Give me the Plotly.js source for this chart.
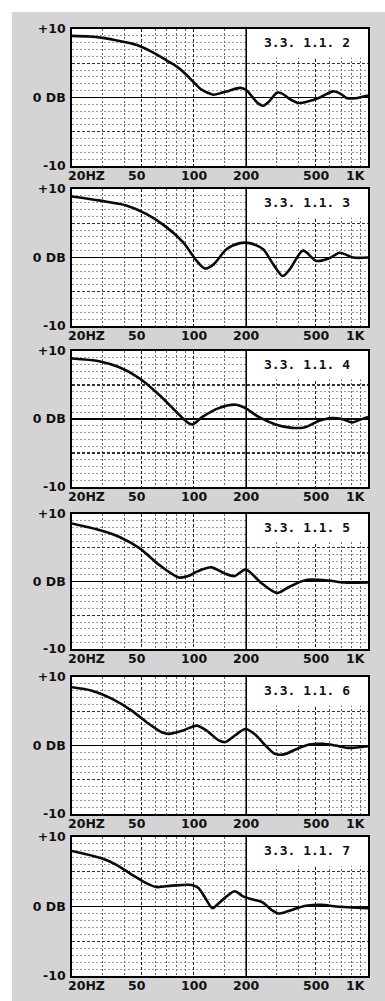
<!DOCTYPE html>
<html><head><meta charset="utf-8">
<script src="https://cdn.plot.ly/plotly-3.0.1.min.js"></script>
<style>
html,body{margin:0;padding:0;background:#fff;}
#chart{position:absolute;left:12px;top:12px;width:373px;height:989px;}
</style>
</head><body><div id="chart"></div>
<script>
// ---- data ----
const panelLabels = ["3.3. 1.1. 2","3.3. 1.1. 3","3.3. 1.1. 4","3.3. 1.1. 5","3.3. 1.1. 6","3.3. 1.1. 7"];
const xTickVals = [20, 50, 100, 200, 500, 1000];
const xTickText = ["20HZ", "50", "100", "200", "500", "1K"];
const yTickVals = [-10, -5, 0, 5, 10];
const yTickText = ["-10", "", "0 DB", "", "+10"];

const freq1 = [20,25,30,35,40,45,50,60,70,80,90,100,110,120,130,145,160,185,200,215,235,250,270,300,320,360,400,450,530,630,700,760,850,1000];
const db1   = [9.0,8.9,8.7,8.4,8.1,7.8,7.4,6.4,5.4,4.5,3.4,2.2,1.2,0.7,0.4,0.7,1.0,1.4,1.1,0.2,-0.9,-1.2,-0.6,0.7,0.6,-0.3,-0.8,-0.6,0.0,0.9,0.5,-0.1,-0.1,0.3];

const freq2 = [20,29,41,54,70,87,104,116,130,154,184,209,250,286,324,356,424,506,600,688,820,1000];
const db2   = [8.9,8.3,7.6,6.3,4.4,2.2,-0.5,-1.6,-1.0,1.2,2.1,2.1,1.2,-1.0,-2.7,-1.7,1.0,-0.5,-0.1,0.7,0.0,0.0];

const freq3 = [20,28.6,37.4,48.7,63,79,90,98,112,139,174,198,236,294,366,436,520,620,710,810,880,1000];
const db3   = [8.9,8.5,7.6,6.0,3.6,1.1,-0.3,-0.8,0.3,1.6,2.1,1.6,0.3,-0.8,-1.3,-1.2,-0.3,0.15,0.0,-0.5,-0.2,0.3];

const freq4 = [20,29,37.5,49,63,82,93,105,126,150,171,198,212,245,300,342,390,450,590,730,1000];
const db4   = [8.6,7.6,6.6,4.9,2.5,0.6,0.8,1.5,2.1,1.2,0.8,1.8,1.3,-0.25,-1.7,-1.0,-0.25,0.25,0.15,-0.15,-0.15];

const freq5 = [20,26,34,44,55,66,72,87,104,118,140,152,173,198,225,258,292,330,390,460,550,650,770,1000];
const db5   = [8.5,8.0,6.8,5.1,3.2,1.9,1.7,2.2,2.9,2.2,0.7,0.5,1.5,2.4,1.6,0.0,-1.2,-1.3,-0.5,0.15,0.25,0.0,-0.35,-0.1];

const freq6 = [20,29,36,44,53,61,75,97,106,115,128,136,155,172,192,218,248,280,305,345,390,440,540,660,1000];
const db6   = [8.0,7.0,6.0,4.6,3.4,2.8,3.0,3.1,2.7,1.45,-0.25,0.25,1.5,2.2,1.45,1.0,0.6,-0.5,-1.0,-0.7,-0.25,0.1,0.25,0.0,-0.25];

const freqs = [freq1,freq2,freq3,freq4,freq5,freq6];
const dbs   = [db1,db2,db3,db4,db5,db6];

// ---- layout geometry ----
const H = 989;
const tops = [17,177,339,502,665,825];
const bots = [154,314,475,637,802,964];
const minorX = [30,40,60,70,80,90,150,300,400,600,700,800,900];
const minorY = [-9,-8,-7,-6,-4,-3,-2,-1,1,2,3,4,6,7,8,9];
const labFont = {family:"DejaVu Sans", size:12.5, color:"#111", weight:700};

const traces = [], shapes = [], annotations = [];
const layout = {
  width:373, height:H, showlegend:false,
  paper_bgcolor:"#d4d4d4", plot_bgcolor:"#ffffff",
  margin:{l:60, r:17, t:0, b:0},
  font:labFont
};

for (let i=0;i<6;i++){
  const n = i===0 ? "" : String(i+1);
  const xa = "x"+n, ya = "y"+n;
  traces.push({x:freqs[i], y:dbs[i], xaxis:xa, yaxis:ya, type:"scatter", mode:"lines",
    line:{color:"#0a0a0a", width:2.6, shape:"spline", smoothing:0.8}, hoverinfo:"skip"});
  layout["xaxis"+n] = {
    type:"log", range:[Math.log10(20), 3], anchor:ya,
    tickvals:[50,100,500], showticklabels:false, ticks:"",
    showgrid:true, gridcolor:"#222", gridwidth:1.2, griddash:"3px,2px",
    minor:{tickvals:minorX, showgrid:true, gridcolor:"#666", gridwidth:1, griddash:"2px,2px", ticks:""},
    showline:true, linecolor:"#000", linewidth:1.8, mirror:true, zeroline:false, fixedrange:true
  };
  layout["yaxis"+n] = {
    range:[-10,10], domain:[1-bots[i]/H, 1-tops[i]/H], anchor:xa,
    tickvals:yTickVals, ticktext:yTickText, ticks:"", tickfont:labFont, ticklabelstandoff:2,
    showgrid:true, gridcolor:"#333", gridwidth:1.2, griddash:"3px,2px",
    minor:{tickvals:minorY, showgrid:true, gridcolor:"#999", gridwidth:1, griddash:"2px,2px", ticks:""},
    zeroline:true, zerolinecolor:"#000", zerolinewidth:1.6,
    showline:true, linecolor:"#000", linewidth:1.8, mirror:true, fixedrange:true
  };
  // white label box
  shapes.push({type:"rect", xref:xa, yref:ya, x0:200, x1:1000, y0:5.8, y1:10,
    fillcolor:"#ffffff", line:{width:0}, layer:"between"});
  // solid 200 Hz line
  shapes.push({type:"line", xref:xa, yref:ya, x0:200, x1:200, y0:-10, y1:10,
    line:{color:"#000", width:1.6}, layer:"between"});
  annotations.push({xref:xa, yref:ya, x:Math.log10(448), y:8.0, text:panelLabels[i], showarrow:false,
    font:{family:"DejaVu Sans Mono", size:13, color:"#111", weight:700}, xanchor:"center", yanchor:"middle"});
  xTickVals.forEach((v,k)=>{
    const last = k===xTickVals.length-1, first = k===0;
    annotations.push({xref:xa, yref:ya+" domain", x:Math.log10(v), y:0, text:xTickText[k], showarrow:false,
      font:labFont, xanchor: first ? "left" : (last ? "right" : "center"),
      xshift: first ? -6 : (k===1 ? -4 : 0), yanchor:"top", yshift:0});
  });
}
layout.shapes = shapes;
layout.annotations = annotations;
Plotly.newPlot("chart", traces, layout, {staticPlot:true, displayModeBar:false});
</script>
</body></html>
